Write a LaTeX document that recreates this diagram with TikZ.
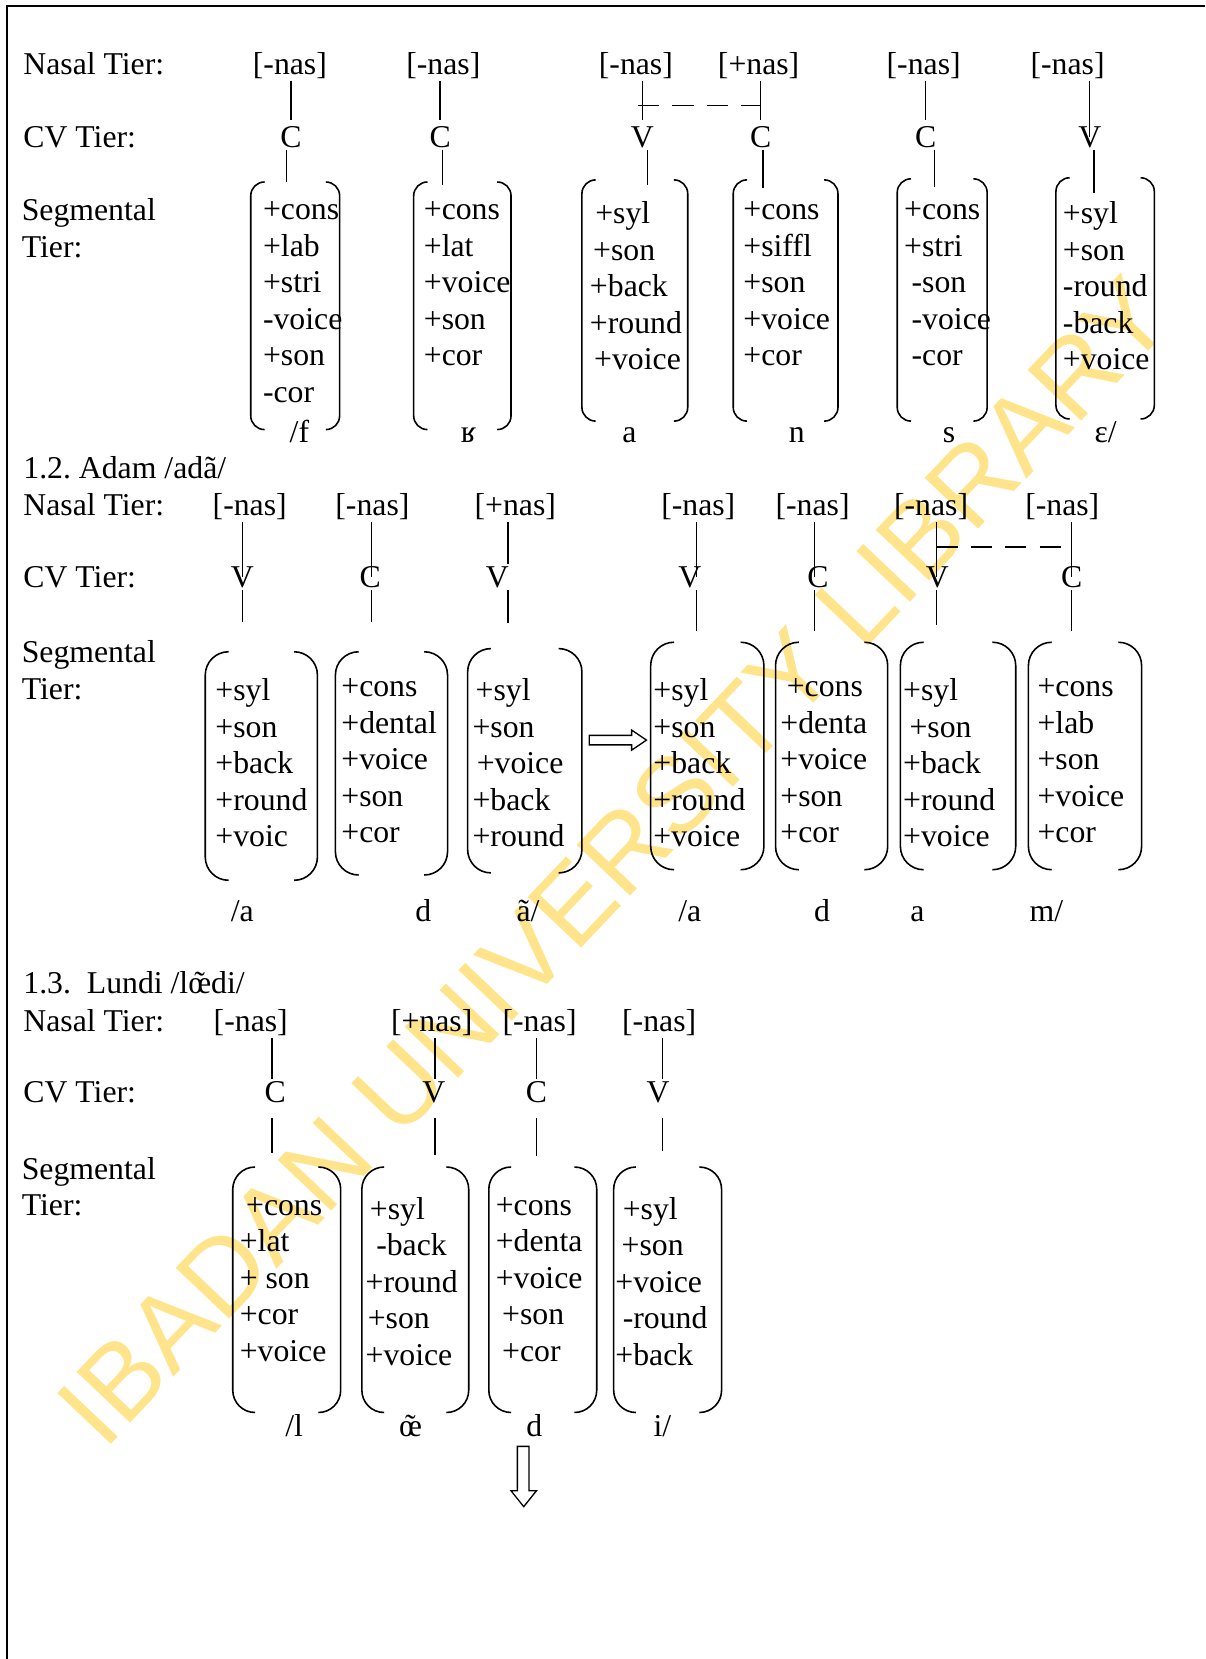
\documentclass[tikz,border=0pt]{standalone}
\usepackage{fontspec}
\setmainfont{Liberation Serif}
\newfontfamily\stampfont{Liberation Sans}
\usepackage{xcolor}
\definecolor{stampyellow}{RGB}{255,228,140}
\newcommand{\nasoe}{\ooalign{œ\cr\hidewidth\symbol{"02DC}\hidewidth\cr}}

\begin{document}
\begin{tikzpicture}[x=0.4pt, y=-0.4pt, line width=0.5pt,
    every node/.style={inner sep=0.6pt, font=\fontsize{12}{13.8}\selectfont},
    lbl/.style={anchor=base west},
    tier/.style={anchor=base},
    feat/.style={anchor=north west, align=left, inner sep=0pt, execute at begin node=\strut},
    tie/.style={line width=0.5pt},
    link/.style={line width=0.5pt, dash pattern=on 8pt off 5pt},
    brkA/.style={line width=0.6pt, rounded corners=5.2pt},
    brkB/.style={line width=0.6pt, rounded corners=8.8pt},
    brkC/.style={line width=0.6pt, rounded corners=8.4pt},
    hollow/.style={line width=0.5pt, fill=white},
    stamp/.style={text=stampyellow, inner sep=0pt, font=\stampfont\fontsize{40.5}{40.5}\selectfont}]
  \useasboundingbox (0,0) rectangle (1139,1568);

  % watermark
  \node[stamp, anchor=base west, rotate=46.5] (Stamp) at (98,1372) {IBADAN UNIVERSITY LIBRARY};

  % frame
  \draw[line width=0.9pt] (6.5,1568) -- (6.5,5.7) -- (1139,5.7);

  % 1.1
  \node[lbl] (LblNasA) at (20,70) {Nasal Tier:};
  \node[lbl] (LblCvA) at (20,139) {CV Tier:};
  \node[feat] (LblSegA) at (20,187) {Segmental\\Tier:};

  \node[tier] (NasA1) at (274,70) {[-nas]};
  \node[tier] (NasA2) at (419,70) {[-nas]};
  \node[tier] (NasA3) at (601,70) {[-nas]};
  \node[tier] (NasA4) at (717,70) {[+nas]};
  \node[tier] (NasA5) at (873,70) {[-nas]};
  \node[tier] (NasA6) at (1009,70) {[-nas]};

  \node[tier] (CvA1) at (275,139) {C};
  \node[tier] (CvA2) at (416,139) {C};
  \node[tier] (CvA3) at (607,139) {V};
  \node[tier] (CvA4) at (719,139) {C};
  \node[tier] (CvA5) at (875,139) {C};
  \node[tier] (CvA6) at (1030,139) {V};

  \coordinate (TopA1) at (271,172);
  \coordinate (TopA2) at (418,175);
  \coordinate (TopA3) at (612,175);
  \coordinate (TopA4) at (721,178);
  \coordinate (TopA5) at (883,177);
  \coordinate (TopA6) at (1034,182);
  \coordinate (DashA1) at (603,100);
  \coordinate (DashA2) at (719,100);

  \draw[tie] (CvA1 |- NasA1.south) -- ([yshift=1.5pt]CvA1.north);
  \draw[tie] (CvA2 |- NasA2.south) -- ([yshift=1.5pt]CvA2.north);
  \draw[tie] (CvA3 |- NasA3.south) -- ([yshift=1.5pt]CvA3.north);
  \draw[tie] (CvA4 |- NasA4.south) -- ([yshift=1.5pt]CvA4.north);
  \draw[tie] (CvA5 |- NasA5.south) -- ([yshift=1.5pt]CvA5.north);
  \draw[tie] (CvA6 |- NasA6.south) -- (CvA6.center);
  \draw[link] (DashA1) -- (DashA2);
  \draw[tie] (CvA1.south -| TopA1) -- (TopA1);
  \draw[tie] (CvA2.south -| TopA2) -- (TopA2);
  \draw[tie] (CvA3.south -| TopA3) -- (TopA3);
  \draw[tie] (CvA4.south -| TopA4) -- (TopA4);
  \draw[tie] (CvA5.south -| TopA5) -- (TopA5);
  \draw[tie] (CvA6.south -| TopA6) -- (TopA6);

  \draw[brkA] (250,172) -- (237,172) -- (237,406) -- (250,406) (308,172) -- (321,172) -- (321,406) -- (308,406);
  \draw[brkA] (404,172) -- (391,172) -- (391,406) -- (404,406) (470,172) -- (483,172) -- (483,406) -- (470,406);
  \draw[brkA] (563,170) -- (550,170) -- (550,398) -- (563,398) (637,170) -- (650,170) -- (650,398) -- (637,398);
  \draw[brkA] (706,170) -- (693,170) -- (693,398) -- (706,398) (779,170) -- (792,170) -- (792,398) -- (779,398);
  \draw[brkA] (861,169) -- (848,169) -- (848,398) -- (861,398) (920,169) -- (933,169) -- (933,398) -- (920,398);
  \draw[brkA] (1011,168) -- (998,168) -- (998,396) -- (1011,396) (1078,168) -- (1091,168) -- (1091,396) -- (1078,396);

  \node[feat] (SegA1) at (248,190) {+cons\\+lab\\+stri\\-voice\\+son\\-cor};
  \node[feat] (SegA2) at (400,190) {+cons\\+lat\\+voice\\+son\\+cor};
  \node[feat] (SegA3) at (557,190) {\hspace*{2pt}+syl\\\hspace*{1.2pt}+son\\+back\\+round\\\hspace*{1.6pt}+voice};
  \node[feat] (SegA4) at (702,190) {+cons\\+siffl\\+son\\+voice\\+cor};
  \node[feat] (SegA5) at (854,190) {+cons\\+stri\\\hspace*{2.8pt}-son\\\hspace*{2.8pt}-voice\\\hspace*{2.8pt}-cor};
  \node[feat] (SegA6) at (1004,190) {+syl\\+son\\-round\\-back\\+voice};

  \node[tier] (SndA1) at (283,418) {/f};
  \node[tier] (SndA2) at (443,418) {ʁ};
  \node[tier] (SndA3) at (595,418) {a};
  \node[tier] (SndA4) at (753,418) {n};
  \node[tier] (SndA5) at (897,418) {s};
  \node[tier] (SndA6) at (1045,418) {ɛ/};

  % 1.2
  \node[lbl] (TitleB) at (20,452) {1.2.\ Adam /adã/};
  \node[lbl] (LblNasB) at (20,487) {Nasal Tier:};
  \node[lbl] (LblCvB) at (20,555) {CV Tier:};
  \node[feat] (LblSegB) at (20,605) {Segmental\\Tier:};

  \node[tier] (NasB1) at (236,487) {[-nas]};
  \node[tier] (NasB2) at (352,487) {[-nas]};
  \node[tier] (NasB3) at (487,487) {[+nas]};
  \node[tier] (NasB4) at (660,487) {[-nas]};
  \node[tier] (NasB5) at (768,487) {[-nas]};
  \node[tier] (NasB6) at (880,487) {[-nas]};
  \node[tier] (NasB7) at (1004,487) {[-nas]};

  \node[tier] (CvB1) at (229,555) {V};
  \node[tier] (CvB2) at (350,555) {C};
  \node[tier] (CvB3) at (470,555) {V};
  \node[tier] (CvB4) at (652,555) {V};
  \node[tier] (CvB5) at (773,555) {C};
  \node[tier] (CvB6) at (886,555) {V};
  \node[tier] (CvB7) at (1013,555) {C};

  \coordinate (TopB1) at (229,588);
  \coordinate (TopB2) at (351,588);
  \coordinate (TopB3) at (480,589);
  \coordinate (TopB4) at (658,596);
  \coordinate (TopB5) at (770,596);
  \coordinate (TopB6) at (885,591);
  \coordinate (TopB7) at (1013,596);
  \coordinate (DashB1) at (885,517);
  \coordinate (DashB2) at (1014,517);

  \draw[tie] (TopB1 |- NasB1.south) -- (TopB1 |- CvB1.center);
  \draw[tie] (TopB2 |- NasB2.south) -- (TopB2 |- CvB2.center);
  \draw[tie] (TopB3 |- NasB3.south) -- (TopB3 |- CvB3.north);
  \draw[tie] (TopB4 |- NasB4.south) -- (TopB4 |- CvB4.center);
  \draw[tie] (TopB5 |- NasB5.south) -- (TopB5 |- CvB5.center);
  \draw[tie] (TopB6 |- NasB6.south) -- (TopB6 |- CvB6.center);
  \draw[tie] (TopB7 |- NasB7.south) -- (TopB7 |- CvB7.center);
  \draw[link] (DashB1) -- (DashB2);
  \draw[tie] (TopB1 |- CvB1.south) -- (TopB1);
  \draw[tie] (TopB2 |- CvB2.south) -- (TopB2);
  \draw[tie] (TopB3 |- CvB3.south) -- (TopB3);
  \draw[tie] (TopB4 |- CvB4.south) -- (TopB4);
  \draw[tie] (TopB5 |- CvB5.south) -- (TopB5);
  \draw[tie] (TopB6 |- CvB6.south) -- (TopB6);
  \draw[tie] (TopB7 |- CvB7.south) -- (TopB7);

  \draw[brkB] (216,616) -- (194,616) -- (194,832) -- (216,832) (278,616) -- (300,616) -- (300,832) -- (278,832);
  \draw[brkB] (339,616) -- (317,616) -- (317,827) -- (339,827) (401,616) -- (423,616) -- (423,827) -- (401,827);
  \draw[brkB] (464,613) -- (442,613) -- (442,825) -- (464,825) (528,613) -- (550,613) -- (550,825) -- (528,825);
  \draw[brkB] (637,607) -- (615,607) -- (615,822) -- (637,822) (700,607) -- (722,607) -- (722,822) -- (700,822);
  \draw[brkB] (755,607) -- (733,607) -- (733,822) -- (755,822) (817,607) -- (839,607) -- (839,822) -- (817,822);
  \draw[brkB] (873,607) -- (851,607) -- (851,822) -- (873,822) (938,607) -- (960,607) -- (960,822) -- (938,822);
  \draw[brkB] (994,607) -- (972,607) -- (972,822) -- (994,822) (1057,607) -- (1079,607) -- (1079,822) -- (1057,822);

  \node[feat] (SegB1) at (203,641) {+syl\\+son\\+back\\+round\\+voic};
  \node[feat] (SegB2) at (322,641) {+cons\\+dental\\+voice\\+son\\+cor};
  \node[feat] (SegB3) at (446,641) {\hspace*{1.2pt}+syl\\+son\\\hspace*{1.6pt}+voice\\+back\\+round};
  \node[feat] (SegB4) at (617,641) {+syl\\+son\\+back\\+round\\+voice};
  \node[feat] (SegB5) at (737,641) {\hspace*{2.4pt}+cons\\+denta\\+voice\\+son\\+cor};
  \node[feat] (SegB6) at (853,641) {+syl\\\hspace*{2.4pt}+son\\+back\\+round\\+voice};
  \node[feat] (SegB7) at (980,641) {+cons\\+lab\\+son\\+voice\\+cor};

  \draw[hollow] (557,695) -- (597,695) -- (597,690) -- (611,699.5) -- (597,709) -- (597,704) -- (557,704) -- cycle;

  \node[tier] (SndB1) at (229,871) {/a};
  \node[tier] (SndB2) at (400,871) {d};
  \node[tier] (SndB3) at (499,871) {ã/};
  \node[tier] (SndB4) at (652,871) {/a};
  \node[tier] (SndB5) at (777,871) {d};
  \node[tier] (SndB6) at (867,871) {a};
  \node[tier] (SndB7) at (989,871) {m/};

  % 1.3
  \node[lbl] (TitleC) at (20,939) {1.3.\ \ Lundi /l\nasoe di/};
  \node[lbl] (LblNasC) at (20,975) {Nasal Tier:};
  \node[lbl] (LblCvC) at (20,1042) {CV Tier:};
  \node[feat] (LblSegC) at (20,1093) {Segmental\\Tier:};

  \node[tier] (NasC1) at (237,975) {[-nas]};
  \node[tier] (NasC2) at (408,975) {[+nas]};
  \node[tier] (NasC3) at (510,975) {[-nas]};
  \node[tier] (NasC4) at (623,975) {[-nas]};

  \node[tier] (CvC1) at (260,1042) {C};
  \node[tier] (CvC2) at (410,1042) {V};
  \node[tier] (CvC3) at (507,1042) {C};
  \node[tier] (CvC4) at (622,1042) {V};

  \coordinate (TopC1) at (257,1090);
  \coordinate (TopC2) at (411,1092);
  \coordinate (TopC3) at (507,1093);
  \coordinate (TopC4) at (626,1088);

  \draw[tie] (TopC1 |- NasC1.south) -- (TopC1 |- CvC1.north);
  \draw[tie] (TopC2 |- NasC2.south) -- (TopC2 |- CvC2.north);
  \draw[tie] (TopC3 |- NasC3.south) -- (TopC3 |- CvC3.north);
  \draw[tie] (TopC4 |- NasC4.south) -- (TopC4 |- CvC4.north);
  \draw[tie, shorten <=5pt] (TopC1 |- CvC1.south) -- (TopC1);
  \draw[tie, shorten <=5pt] (TopC2 |- CvC2.south) -- (TopC2);
  \draw[tie, shorten <=5pt] (TopC3 |- CvC3.south) -- (TopC3);
  \draw[tie, shorten <=5pt] (TopC4 |- CvC4.south) -- (TopC4);

  \draw[brkC] (241,1103) -- (220,1103) -- (220,1335) -- (241,1335) (301,1103) -- (322,1103) -- (322,1335) -- (301,1335);
  \draw[brkC] (363,1103) -- (342,1103) -- (342,1335) -- (363,1335) (422,1103) -- (443,1103) -- (443,1335) -- (422,1335);
  \draw[brkC] (483,1103) -- (462,1103) -- (462,1335) -- (483,1335) (543,1103) -- (564,1103) -- (564,1335) -- (543,1335);
  \draw[brkC] (601,1103) -- (580,1103) -- (580,1335) -- (601,1335) (661,1103) -- (682,1103) -- (682,1335) -- (661,1335);

  \node[feat] (SegC1) at (226,1131) {\hspace*{2.4pt}+cons\\+lat\\+ son\\+cor\\+voice};
  \node[feat] (SegC2) at (345,1131) {\hspace*{1.6pt}+syl\\\hspace*{4pt}-back\\+round\\\hspace*{0.8pt}+son\\+voice};
  \node[feat] (SegC3) at (468,1131) {+cons\\+denta\\+voice\\\hspace*{2.4pt}+son\\\hspace*{2.4pt}+cor};
  \node[feat] (SegC4) at (581,1131) {\hspace*{2.8pt}+syl\\\hspace*{2.4pt}+son\\+voice\\\hspace*{2.8pt}-round\\+back};

  \node[tier] (SndC1) at (278,1358) {/l};
  \node[tier] (SndC2) at (388,1358) {\nasoe};
  \node[tier] (SndC3) at (505,1358) {d};
  \node[tier] (SndC4) at (626,1358) {i/};

  \draw[hollow] (489,1367) -- (500,1367) -- (500,1409) -- (507,1409) -- (495,1424) -- (483,1409) -- (489,1409) -- cycle;
\end{tikzpicture}
\end{document}
